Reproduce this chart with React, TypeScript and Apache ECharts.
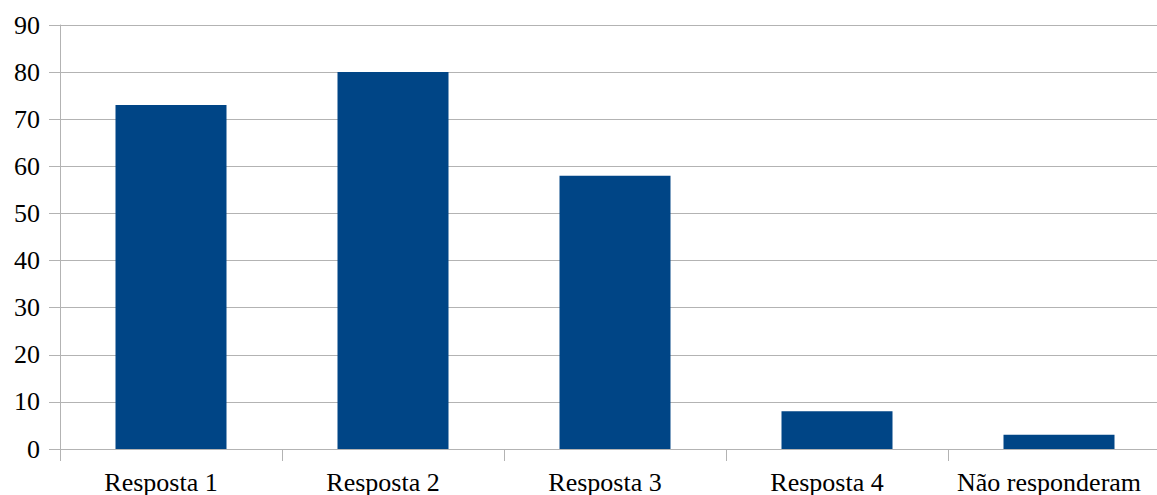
import React, { useEffect, useRef } from "react";
import * as echarts from "echarts";

const categories = ["Resposta 1", "Resposta 2", "Resposta 3", "Resposta 4", "Não responderam"];
const values = [73, 80, 58, 8, 3];
const yTicks = { min: 0, max: 90, interval: 10 };

export default function App() {
  const ref = useRef<HTMLDivElement>(null);
  useEffect(() => {
    if (!ref.current) return;
    const chart = echarts.init(ref.current, undefined, { renderer: "svg" });
    const font = "'Liberation Serif', 'Times New Roman', serif";
    chart.setOption({
      animation: false,
      backgroundColor: "#ffffff",
      grid: { left: 60, right: 0, top: 25, bottom: 43, containLabel: false },
      xAxis: {
        type: "category",
        data: categories,
        axisLine: { show: true, lineStyle: { color: "#b3b3b3", width: 1 } },
        axisTick: { show: true, length: 12, interval: 0, lineStyle: { color: "#b3b3b3" } },
        axisLabel: {
          color: "#000",
          fontFamily: font,
          fontSize: 26,
          margin: 20,
          interval: 0,
          hideOverlap: false,
          padding: [0, 20, 0, 0],
        },
      },
      yAxis: {
        type: "value",
        min: yTicks.min,
        max: yTicks.max,
        interval: yTicks.interval,
        axisLine: { show: true, lineStyle: { color: "#b3b3b3", width: 1 } },
        axisTick: { show: true, length: 11, lineStyle: { color: "#b3b3b3" } },
        axisLabel: { color: "#000", fontFamily: font, fontSize: 26, margin: 20 },
        splitLine: { show: true, lineStyle: { color: "#b3b3b3", width: 1 } },
      },
      series: [
        {
          type: "bar",
          data: values,
          barWidth: "50%",
          itemStyle: { color: "#004586" },
        },
      ],
    });
    return () => chart.dispose();
  }, []);
  return (
    <div style={{ position: "absolute", left: 0, top: 0, width: 1157, height: 495, overflow: "hidden" }}>
      <div ref={ref} style={{ width: 1170, height: 495 }} />
    </div>
  );
}
